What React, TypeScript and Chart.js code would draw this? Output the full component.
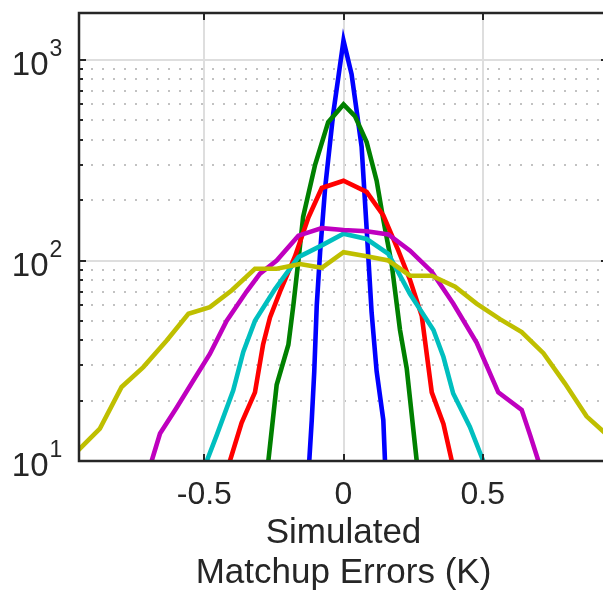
import React, { useEffect, useRef } from 'react';
import { Chart, registerables } from 'chart.js';

Chart.register(...registerables);

// ---- axis definitions ----
const X_MIN = -0.95;
const X_MAX = 0.95;
const Y_MIN = 10;
const Y_MAX = 1716;
const X_TICKS = [-0.5, 0, 0.5];
const X_TICK_LABELS = ['-0.5', '0', '0.5'];
const Y_MAJOR = [10, 100, 1000];
const Y_EXPONENTS = ['1', '2', '3'];
const Y_MINOR = [20, 30, 40, 50, 60, 70, 80, 90, 200, 300, 400, 500, 600, 700, 800, 900];
const X_TITLE = ['Simulated', 'Matchup Errors (K)'];

// ---- series data (x = error in K, y = count) ----
const blueX = [-0.123, -0.114, -0.105, -0.096, -0.084, -0.066, -0.037, 0, 0.029, 0.065, 0.083, 0.101, 0.119, 0.143, 0.149];
const blueY = [10, 16, 28, 60, 110, 230, 540, 1250, 850, 370, 145, 55, 28, 16, 10];

const greenX = [-0.27, -0.24, -0.198, -0.18, -0.162, -0.145, -0.102, -0.055, 0, 0.041, 0.083, 0.119, 0.143, 0.173, 0.203, 0.227, 0.263];
const greenY = [10, 24, 38, 60, 100, 165, 300, 490, 600, 525, 390, 250, 160, 96, 45, 29, 10];

const redX = [-0.408, -0.366, -0.318, -0.289, -0.264, -0.228, -0.174, -0.126, -0.078, 0, 0.083, 0.143, 0.197, 0.239, 0.281, 0.317, 0.359, 0.389];
const redY = [10, 15.5, 22, 38, 52, 70, 105, 164, 230, 250, 220, 168, 112, 80, 53, 22, 15.3, 10];

const cyanX = [-0.491, -0.455, -0.396, -0.36, -0.318, -0.246, -0.162, -0.078, 0, 0.083, 0.161, 0.239, 0.323, 0.359, 0.394, 0.454, 0.502];
const cyanY = [10, 13.5, 22.5, 35, 50, 72, 104, 119, 136, 128, 108, 68, 45, 33, 21.7, 14.8, 10];

const magentaX = [-0.689, -0.659, -0.599, -0.541, -0.48, -0.42, -0.348, -0.3, -0.24, -0.162, -0.078, 0, 0.083, 0.161, 0.239, 0.317, 0.394, 0.478, 0.556, 0.64, 0.67, 0.7];
const magentaY = [10, 13.7, 18.5, 25, 34.2, 50, 70, 86, 100, 133, 145, 142, 140, 135, 112, 88, 61, 39, 22, 18, 13.5, 10];

const yellowX = [-0.953, -0.875, -0.797, -0.719, -0.635, -0.557, -0.48, -0.402, -0.318, -0.24, -0.156, -0.078, 0, 0.083, 0.161, 0.239, 0.317, 0.401, 0.478, 0.562, 0.64, 0.718, 0.795, 0.873, 0.952];
const yellowY = [11.3, 14.5, 23.4, 29.4, 39.9, 54.2, 58.5, 70.9, 91, 91, 96, 92, 110, 105, 100, 84, 84, 74, 61, 51, 44, 34.5, 24.4, 16.7, 13.3];

const SERIES = [
  { x: blueX, y: blueY, color: '#0000FF' },
  { x: greenX, y: greenY, color: '#008000' },
  { x: redX, y: redY, color: '#FF0000' },
  { x: cyanX, y: cyanY, color: '#00BFBF' },
  { x: magentaX, y: magentaY, color: '#BF00BF' },
  { x: yellowX, y: yellowY, color: '#BFBF00' },
];

const FONT = '"Liberation Sans", Arial, Helvetica, sans-serif';
const AXIS_COLOR = '#262626';

const matlabAxes = {
  id: 'matlabAxes',
  beforeDatasetsDraw(chart: any) {
    const { ctx, chartArea: a, scales } = chart;
    const xs = scales.x;
    const ys = scales.y;
    ctx.save();
    // minor dotted grid
    ctx.strokeStyle = '#c2c2c2';
    ctx.lineWidth = 2;
    ctx.setLineDash([2, 9]);
    for (const v of Y_MINOR) {
      const py = Math.round(ys.getPixelForValue(v));
      ctx.beginPath();
      ctx.moveTo(a.left + 1, py);
      ctx.lineTo(a.right, py);
      ctx.stroke();
    }
    // major grid
    ctx.setLineDash([]);
    ctx.strokeStyle = '#dedede';
    ctx.lineWidth = 2;
    for (const v of Y_MAJOR) {
      const py = Math.round(ys.getPixelForValue(v));
      ctx.beginPath();
      ctx.moveTo(a.left, py);
      ctx.lineTo(a.right, py);
      ctx.stroke();
    }
    for (const v of X_TICKS) {
      const px = Math.round(xs.getPixelForValue(v));
      ctx.beginPath();
      ctx.moveTo(px, a.top);
      ctx.lineTo(px, a.bottom);
      ctx.stroke();
    }
    ctx.restore();
  },
  afterDatasetsDraw(chart: any) {
    const { ctx, chartArea: a, scales } = chart;
    const xs = scales.x;
    const ys = scales.y;
    const L = a.left, R = a.right, T = a.top, B = a.bottom;
    ctx.save();
    ctx.strokeStyle = AXIS_COLOR;
    ctx.lineWidth = 2;
    ctx.lineCap = 'butt';
    const seg = (x1: number, y1: number, x2: number, y2: number) => {
      ctx.beginPath();
      ctx.moveTo(x1, y1);
      ctx.lineTo(x2, y2);
      ctx.stroke();
    };
    for (const v of X_TICKS) {
      const px = Math.round(xs.getPixelForValue(v));
      seg(px, B, px, B - 7);
      seg(px, T, px, T + 7);
    }
    for (const v of Y_MAJOR) {
      const py = Math.round(ys.getPixelForValue(v));
      seg(L, py, L + 7, py);
      seg(R, py, R - 7, py);
    }
    for (const v of Y_MINOR) {
      const py = Math.round(ys.getPixelForValue(v));
      seg(L, py, L + 4, py);
      seg(R, py, R - 4, py);
    }
    ctx.lineWidth = 2.5;
    ctx.strokeRect(L, T, R - L, B - T);

    // tick labels
    ctx.fillStyle = AXIS_COLOR;
    ctx.textBaseline = 'alphabetic';
    ctx.textAlign = 'center';
    ctx.font = `32px ${FONT}`;
    X_TICKS.forEach((v, i) => {
      const px = xs.getPixelForValue(v);
      ctx.fillText(X_TICK_LABELS[i], px, B + 43);
    });
    Y_MAJOR.forEach((v, i) => {
      const py = ys.getPixelForValue(v);
      ctx.font = `33px ${FONT}`;
      ctx.textAlign = 'right';
      ctx.fillText('10', 48.5, py + 15);
      ctx.font = `23px ${FONT}`;
      ctx.textAlign = 'left';
      ctx.fillText(Y_EXPONENTS[i], 49.5, py - 4);
    });
    // axis title
    ctx.font = `35px ${FONT}`;
    ctx.textAlign = 'center';
    const cx = (L + R) / 2;
    ctx.fillText(X_TITLE[0], cx, B + 82);
    ctx.fillText(X_TITLE[1], cx, B + 122);
    ctx.restore();
  },
};

export default function App() {
  const ref = useRef<HTMLCanvasElement | null>(null);
  useEffect(() => {
    if (!ref.current) return;
    const datasets = SERIES.map((s) => ({
      data: s.x.map((x, i) => ({ x, y: s.y[i] })),
      borderColor: s.color,
      backgroundColor: s.color,
      borderWidth: 4.6,
      pointRadius: 0,
      tension: 0,
      fill: false,
      clip: 0,
    })).reverse();
    const chart = new Chart(ref.current, {
      type: 'line',
      data: { datasets },
      options: {
        animation: false,
        responsive: false,
        devicePixelRatio: 1,
        layout: { padding: { left: 79, top: 13, right: 4, bottom: 132 } },
        plugins: { legend: { display: false }, tooltip: { enabled: false } },
        scales: {
          x: { type: 'linear', min: X_MIN, max: X_MAX, display: false, bounds: 'data' },
          y: { type: 'logarithmic', min: Y_MIN, max: Y_MAX, display: false, bounds: 'data' },
        },
      },
      plugins: [matlabAxes],
    } as any);
    return () => chart.destroy();
  }, []);
  return (
    <div style={{ position: 'fixed', left: 0, top: 0, width: 603, height: 593, overflow: 'hidden', background: '#fff' }}>
      <canvas ref={ref} width={612} height={593} style={{ display: 'block' }} />
    </div>
  );
}
